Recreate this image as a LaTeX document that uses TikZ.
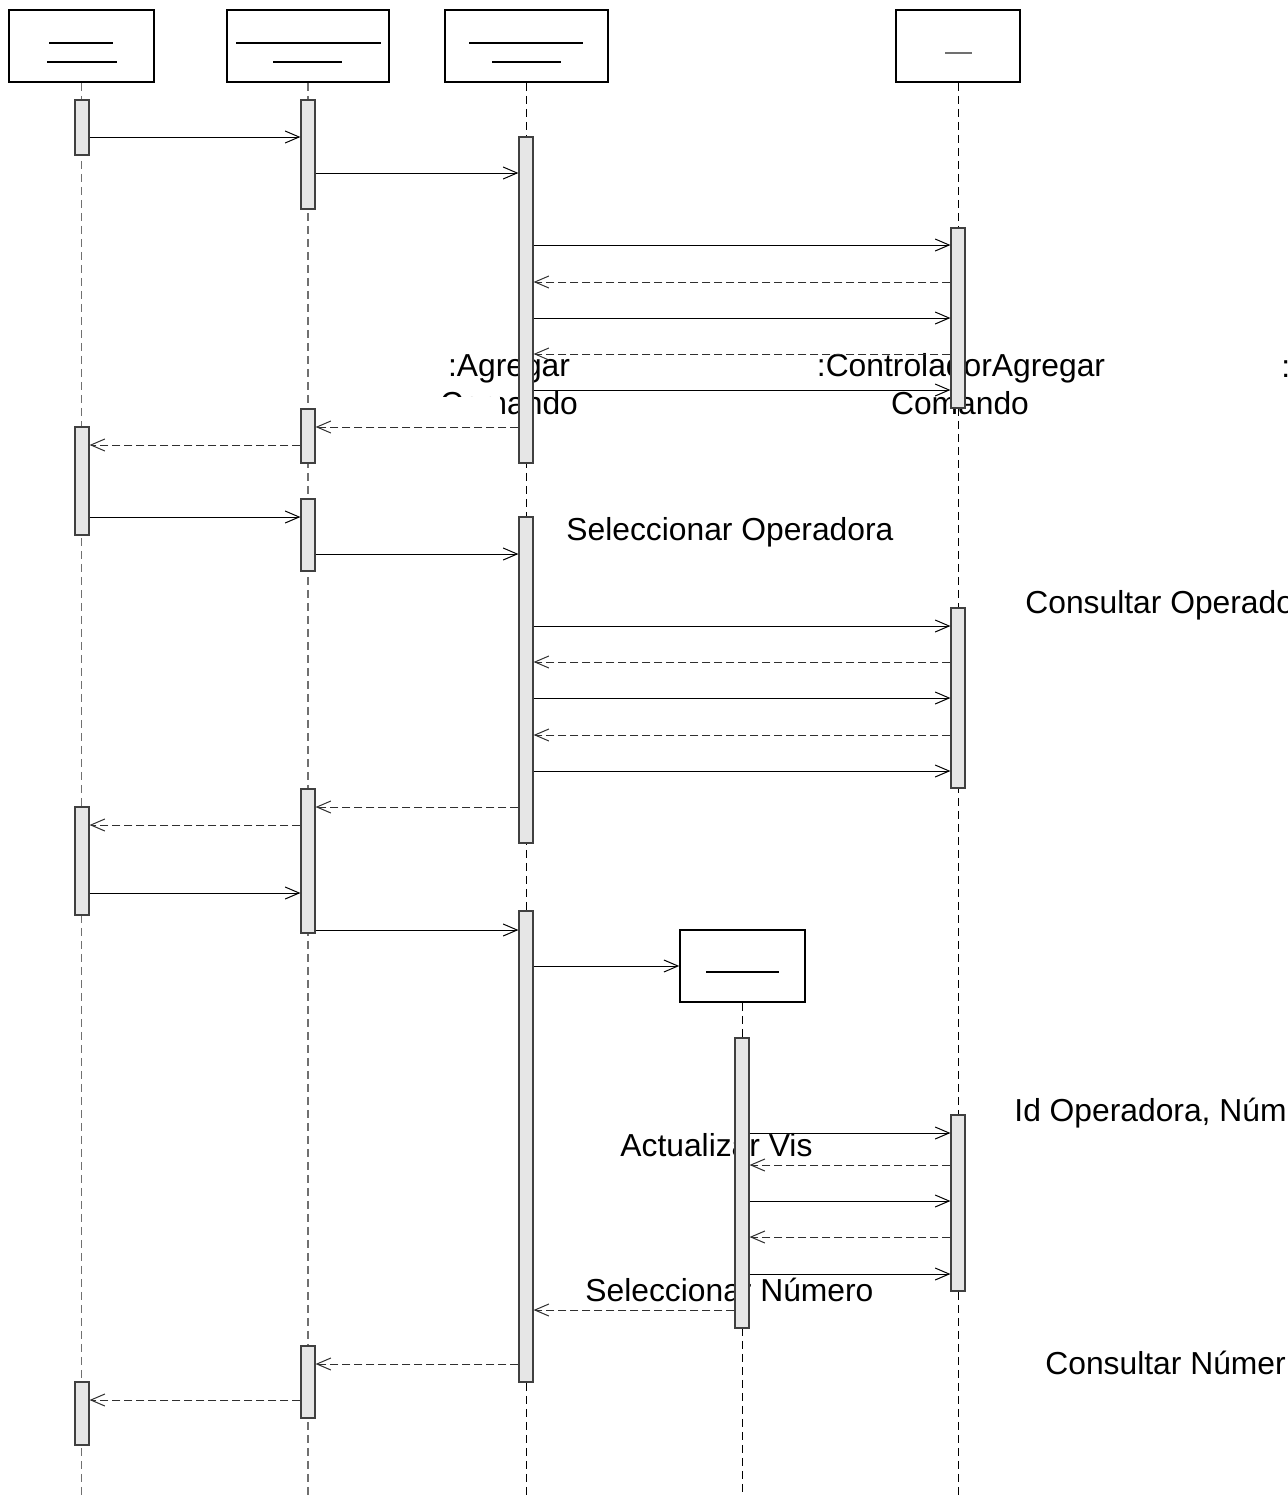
\documentclass[tikz,border=0pt]{standalone}
\usepackage{fontspec}
\setmainfont{Liberation Sans}
\usetikzlibrary{arrows.meta}
\definecolor{barfill}{HTML}{E6E6E6}
\definecolor{bardraw}{HTML}{404040}
\definecolor{lifegrey}{HTML}{707070}
\definecolor{retcol}{HTML}{303030}
\tikzset{
  hbox/.style={rectangle, draw=black, line width=0.8pt, fill=white, inner sep=0pt, minimum height=36pt},
  actbar/.style={rectangle, draw=bardraw, line width=0.6pt, fill=barfill, inner sep=0pt, minimum width=7pt},
  lifeg/.style={draw=lifegrey, line width=0.6pt, dash pattern=on 4pt off 2.5pt},
  lifek/.style={draw=black, line width=0.5pt, dash pattern=on 4pt off 2.5pt},
  msg/.style={draw=black, line width=0.5pt, -{Straight Barb[length=7pt,width=6pt]}},
  ret/.style={draw=retcol, line width=0.5pt, dash pattern=on 4pt off 2pt, -{Straight Barb[length=7pt,width=6pt]}},
  ph/.style={draw=black, line width=0.55pt},
  lbl/.style={inner sep=0pt, font=\fontsize{15.9pt}{19pt}\selectfont},
}
\newcommand{\abar}[4]{\node[actbar, minimum height={(#4-#3)*0.5pt}] (#1) at (#2,{(#3+#4)/2}) {};}
\begin{document}
\begin{tikzpicture}[x=0.5pt,y=-0.5pt]
\clip (0,0) rectangle (1287,1499);
\useasboundingbox (0,0) rectangle (1287,1499);
% object boxes
\node[hbox, minimum width=72.5pt] (o1) at (81.5,46) {};
\node[hbox, minimum width=81pt] (o2) at (308,46) {};
\node[hbox, minimum width=81.5pt] (o3) at (526.5,46) {};
\node[hbox, minimum width=62pt] (o5) at (958,46) {};
\node[hbox, minimum width=62.5pt] (o4) at (742.5,966) {};
% placeholder name lines
\draw[ph] (49,43) -- (113,43);
\draw[ph] (47,62) -- (117,62);
\draw[ph] (236,43) -- (381,43);
\draw[ph] (273,62) -- (342,62);
\draw[ph] (469,43) -- (583,43);
\draw[ph] (492,62) -- (561,62);
\draw[ph, draw=lifegrey] (945,53) -- (972,53);
\draw[ph] (706,972) -- (779,972);
% lifelines
\draw[lifeg] (o1.south) -- (o1.south |- 0,1499);
\draw[lifeg] (o2.south) -- (o2.south |- 0,1499);
\draw[lifek] (o3.south) -- (o3.south |- 0,1499);
\draw[lifek] (o5.south) -- (o5.south |- 0,1495);
\draw[lifek] (o4.south) -- (o4.south |- 0,1495);
% labels
\node[lbl, anchor=base] (t1) at (509,376) {:Agregar};
\begin{scope}
\clip (430,380) -- (600,380) -- (600,425) -- (500,425) -- (500,396) -- (430,396) -- cycle;
\node[lbl, anchor=base] (t2) at (509,414) {Comando};
\end{scope}
\node[lbl, anchor=base] (t3) at (961,376) {:ControladorAgregar};
\node[lbl, anchor=base] (t4) at (960,414) {Comando};
\node[lbl, anchor=base west] (t5) at (1281,377) {:};
\node[lbl, anchor=base west] (t6) at (566,540) {Seleccionar Operadora};
\node[lbl, anchor=base west] (t7) at (1025,613) {Consultar Operado};
\node[lbl, anchor=base west] (t8) at (1014,1121) {Id Operadora, Núm};
\node[lbl, anchor=base west] (t9) at (620,1156) {Actualizar Vis};
\node[lbl, anchor=base west] (t10) at (585,1301) {Seleccionar Número};
\node[lbl, anchor=base west] (t11) at (1045,1374) {Consultar Númer};
% activation bars
\abar{a1}{82}{100}{155}
\abar{a2}{82}{427}{535}
\abar{a3}{82}{807}{915}
\abar{a4}{82}{1382}{1445}
\abar{b1}{308}{100}{209}
\abar{b2}{308}{409}{463}
\abar{b3}{308}{499}{571}
\abar{b4}{308}{789}{933}
\abar{b5}{308}{1346}{1418}
\abar{c1}{526}{137}{463}
\abar{c2}{526}{517}{843}
\abar{c3}{526}{911}{1382}
\abar{d1}{742}{1038}{1328}
\abar{e1}{958}{228}{408}
\abar{e2}{958}{608}{788}
\abar{e3}{958}{1115}{1291}
% messages
\draw[msg] (a1.east |- 0,137) -- (b1.west |- 0,137);
\draw[msg] (b1.east |- 0,173) -- (c1.west |- 0,173);
\draw[msg] (c1.east |- 0,245) -- (e1.west |- 0,245);
\draw[ret] (e1.west |- 0,282) -- (c1.east |- 0,282);
\draw[msg] (c1.east |- 0,318) -- (e1.west |- 0,318);
\draw[ret] (e1.west |- 0,354) -- (c1.east |- 0,354);
\draw[msg] (c1.east |- 0,390) -- (e1.west |- 0,390);
\draw[ret] (c1.west |- 0,427) -- (b2.east |- 0,427);
\draw[ret] (b2.west |- 0,445) -- (a2.east |- 0,445);
\draw[msg] (a2.east |- 0,517) -- (b3.west |- 0,517);
\draw[msg] (b3.east |- 0,554) -- (c2.west |- 0,554);
\draw[msg] (c2.east |- 0,626) -- (e2.west |- 0,626);
\draw[ret] (e2.west |- 0,662) -- (c2.east |- 0,662);
\draw[msg] (c2.east |- 0,698) -- (e2.west |- 0,698);
\draw[ret] (e2.west |- 0,735) -- (c2.east |- 0,735);
\draw[msg] (c2.east |- 0,771) -- (e2.west |- 0,771);
\draw[ret] (c2.west |- 0,807) -- (b4.east |- 0,807);
\draw[ret] (b4.west |- 0,825) -- (a3.east |- 0,825);
\draw[msg] (a3.east |- 0,893) -- (b4.west |- 0,893);
\draw[msg] (b4.east |- 0,930) -- (c3.west |- 0,930);
\draw[msg] (c3.east |- 0,966) -- (o4.west);
\draw[msg] (d1.east |- 0,1133) -- (e3.west |- 0,1133);
\draw[ret] (e3.west |- 0,1165) -- (d1.east |- 0,1165);
\draw[msg] (d1.east |- 0,1201) -- (e3.west |- 0,1201);
\draw[ret] (e3.west |- 0,1237) -- (d1.east |- 0,1237);
\draw[msg] (d1.east |- 0,1274) -- (e3.west |- 0,1274);
\draw[ret] (d1.west |- 0,1310) -- (c3.east |- 0,1310);
\draw[ret] (c3.west |- 0,1364) -- (b5.east |- 0,1364);
\draw[ret] (b5.west |- 0,1400) -- (a4.east |- 0,1400);
\end{tikzpicture}
\end{document}
